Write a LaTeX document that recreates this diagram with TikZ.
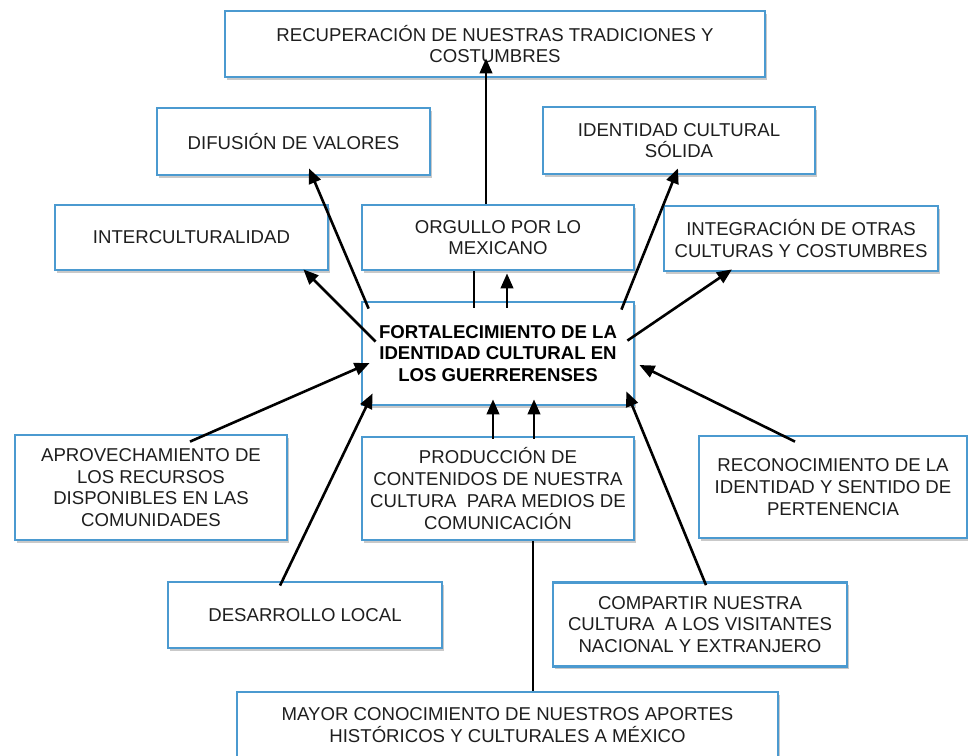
\documentclass[tikz,border=0pt]{standalone}
\usepackage{fontspec}
\setmainfont{Liberation Sans}
\usetikzlibrary{arrows.meta,shadows,calc}
\definecolor{boxblue}{HTML}{4B9AD0}
\definecolor{txt}{HTML}{1E1E1E}
\begin{document}
\begin{tikzpicture}[x=1pt,y=1pt,
  box/.style={draw=boxblue, line width=2.8pt, fill=white, inner sep=0pt,
    align=center, text=txt, font=\fontsize{18.6}{21.7}\selectfont,
    drop shadow={shadow xshift=1.5pt, shadow yshift=-2.5pt, opacity=0.35, fill=black!60}},
  arr/.style={line width=2.6pt, draw=black, -{Triangle[length=15pt,width=12.5pt]}},
  ln/.style={line width=2.6pt, draw=black}]
\useasboundingbox (0,0) rectangle (968,-755);
\fill[white] (0,0) rectangle (968,-755);

\node[box, minimum width=540, minimum height=66] (rec) at (495,-44) {RECUPERACIÓN DE NUESTRAS TRADICIONES Y\\COSTUMBRES};
\node[box, minimum width=273, minimum height=67] (dif) at (293.5,-141.5) {DIFUSIÓN DE VALORES};
\node[box, minimum width=272, minimum height=67] (ide) at (679,-140.5) {IDENTIDAD CULTURAL\\SÓLIDA};
\node[box, minimum width=273, minimum height=65] (int) at (191.5,-237.5) {INTERCULTURALIDAD};
\node[box, minimum width=272, minimum height=65] (org) at (498,-237.5) {ORGULLO POR LO\\MEXICANO};
\node[box, minimum width=274, minimum height=65] (itg) at (801,-238.5) {INTEGRACIÓN DE OTRAS\\CULTURAS Y COSTUMBRES};
\node[box, minimum width=272, minimum height=103, text=black, font=\bfseries\fontsize{18.6}{21.7}\selectfont] (c) at (498,-353.5) {FORTALECIMIENTO DE LA\\IDENTIDAD CULTURAL EN\\LOS GUERRERENSES};
\node[box, minimum width=272, minimum height=105] (apr) at (151,-487.5) {APROVECHAMIENTO DE\\LOS RECURSOS\\DISPONIBLES EN LAS\\COMUNIDADES};
\node[box, minimum width=272, minimum height=103] (pro) at (498,-488.5) {PRODUCCIÓN DE\\CONTENIDOS DE NUESTRA\\CULTURA~ PARA MEDIOS DE\\COMUNICACIÓN};
\node[box, minimum width=268, minimum height=102] (recon) at (833,-487) {RECONOCIMIENTO DE LA\\IDENTIDAD Y SENTIDO DE\\PERTENENCIA};
\node[box, minimum width=274, minimum height=66] (des) at (305,-615) {DESARROLLO LOCAL};
\node[box, minimum width=294, minimum height=84] (comp) at (700,-624.5) {COMPARTIR NUESTRA\\CULTURA~ A LOS VISITANTES\\NACIONAL Y EXTRANJERO};
\node[box, minimum width=541, minimum height=66] (may) at (507.5,-725) {MAYOR CONOCIMIENTO DE NUESTROS APORTES\\HISTÓRICOS Y CULTURALES A MÉXICO};

% upward from centre
\draw[arr] ([xshift=-12pt]org.north) -- ([xshift=-9pt,yshift=20pt]rec.south);
\draw[ln]  ([xshift=-24pt,yshift=-7pt]c.north) -- ([xshift=-24pt]org.south);
\draw[arr] ([xshift=9pt,yshift=-7pt]c.north) -- ([xshift=9pt,yshift=-2pt]org.south);
\draw[arr] ([xshift=8pt,yshift=-8pt]c.north west) -- ([xshift=15.5pt,yshift=8pt]dif.south);
\draw[arr] ([xshift=15pt,yshift=-41pt]c.north west) -- ([xshift=-26pt,yshift=2pt]int.south east);
\draw[arr] ([xshift=-14pt,yshift=-9pt]c.north east) -- ([xshift=-1pt,yshift=7pt]ide.south);
\draw[arr] ([xshift=-8pt,yshift=-40pt]c.north east) -- ([xshift=-69pt,yshift=3pt]itg.south);

% into centre
\draw[arr] ([xshift=39pt,yshift=-8pt]apr.north) -- ([xshift=9pt,yshift=-9.5pt]c.west);
\draw[arr] ([xshift=-25pt,yshift=-5pt]des.north) -- ([xshift=12pt,yshift=13pt]c.south west);
\draw[arr] ([xshift=-5pt,yshift=-3pt]pro.north) -- ([xshift=-5pt,yshift=7pt]c.south);
\draw[arr] ([xshift=36pt,yshift=-3pt]pro.north) -- ([xshift=36pt,yshift=7pt]c.south);
\draw[arr] ([xshift=-38pt,yshift=-7pt]recon.north) -- ([xshift=4pt,yshift=-11.5pt]c.east);
\draw[arr] ([xshift=6pt,yshift=-4pt]comp.north) -- ([xshift=-9pt,yshift=15pt]c.south east);

% bottom link
\draw[ln] ([xshift=25.5pt]may.north) -- ([xshift=35pt]pro.south);
\end{tikzpicture}
\end{document}
